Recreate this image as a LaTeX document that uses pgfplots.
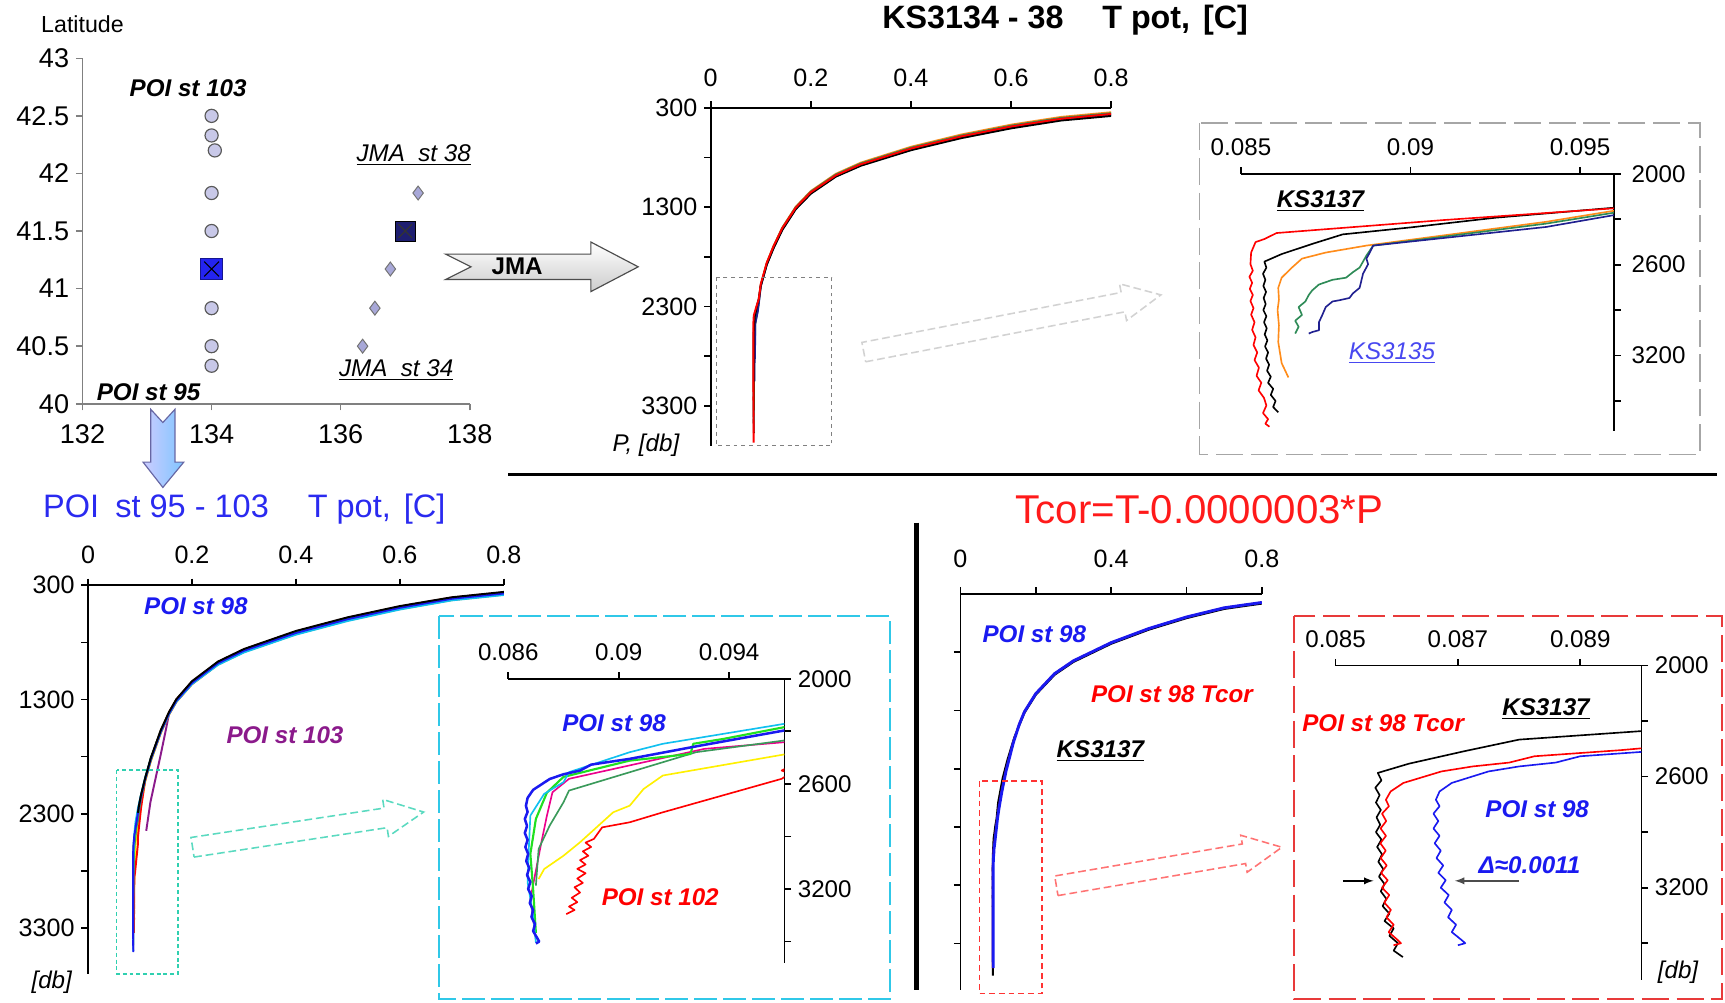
\documentclass[border=0pt]{standalone}
\usepackage{fontspec}
\setmainfont{Liberation Sans}
\usepackage{pgfplots}
\pgfplotsset{compat=1.18}
\usepackage{pgfplotstable}
\usetikzlibrary{shapes.arrows}

\definecolor{poicirc}{HTML}{C8C8E8}
\definecolor{jmadia}{HTML}{A8A8D8}
\definecolor{sqblue}{HTML}{2424F0}
\definecolor{sqnavy}{HTML}{1E1E70}
\definecolor{ksorange}{HTML}{FF8C1A}
\definecolor{ksgreen}{HTML}{2E8B57}
\definecolor{ksnavy}{HTML}{202090}
\definecolor{titleblue}{HTML}{2A2AF0}
\definecolor{st98}{HTML}{1A1AF0}
\definecolor{purp}{HTML}{8B1A8B}
\definecolor{pcyan}{HTML}{10C0F0}
\definecolor{pgreen}{HTML}{20E020}
\definecolor{psea}{HTML}{3A9A5A}
\definecolor{pyellow}{HTML}{FFF000}
\definecolor{cyanframe}{HTML}{30C8E8}
\definecolor{tealdot}{HTML}{30D0B0}
\definecolor{redframe}{HTML}{E83A3A}
\definecolor{ks35}{HTML}{4848F0}
\definecolor{titlered}{HTML}{FF1A1A}

\newcommand\lab{\fontsize{12.5}{13}\selectfont\bfseries\itshape}

% ---------- KS3134-38 (JMA) profiles: T pot [C], P [db]
\pgfplotstableread{
T P
0.8 382
0.7 428
0.6 507
0.5 606
0.4 727
0.3 883
0.25 993
0.2 1165
0.17 1320
0.143 1530
0.125 1720
0.112 1880
0.1 2090
0.096 2224
0.0925 2290
0.09 2354
0.088 2400
0.0871 2463
0.0862 2530
0.08569 2580
0.08575 2620
0.08565 2660
0.08572 2700
0.08566 2740
0.08574 2780
0.08567 2820
0.08573 2860
0.08566 2900
0.08575 2940
0.08568 2980
0.08576 3020
0.0857 3060
0.08578 3100
0.08571 3140
0.0858 3180
0.08574 3220
0.08583 3260
0.08577 3300
0.08588 3340
0.0858 3380
0.08595 3420
0.08588 3460
0.08602 3500
0.08595 3540
0.0861 3575
}\ksBlack

\pgfplotstableread{
T P
0.8 362
0.7 410
0.6 488
0.5 588
0.4 710
0.3 868
0.25 980
0.2 1150
0.17 1305
0.143 1512
0.125 1700
0.112 1860
0.1 2075
0.096 2228
0.091 2305
0.08605 2391
0.0857 2430
0.08543 2451
0.0853 2520
0.08528 2597
0.08535 2640
0.08525 2680
0.08533 2720
0.08526 2760
0.08535 2800
0.08528 2840
0.08537 2887
0.0853 2930
0.0854 2980
0.08533 3030
0.08543 3080
0.08537 3130
0.08548 3180
0.0854 3230
0.08553 3280
0.08546 3334
0.0856 3380
0.08552 3430
0.08568 3480
0.08575 3530
0.08565 3580
0.0858 3620
0.08572 3650
0.08584 3670
}\ksRed

\pgfplotstableread{
T P
0.8 345
0.7 392
0.6 470
0.5 570
0.4 693
0.3 852
0.25 965
0.2 1138
0.17 1296
0.143 1506
0.125 1698
0.112 1862
0.1 2085
0.096 2244
0.094 2317
0.0887 2474
0.0875 2520
0.0868 2560
0.0865 2620
0.0862 2686
0.0861 2753
0.08612 2830
0.08608 2900
0.08612 3000
0.0861 3111
0.0862 3250
0.0864 3345
}\ksOrange

\pgfplotstableread{
T P
0.8 355
0.7 402
0.6 480
0.5 580
0.4 702
0.3 860
0.25 972
0.2 1144
0.17 1300
0.143 1510
0.125 1702
0.112 1866
0.1 2092
0.096 2257
0.094 2329
0.0889 2474
0.0888 2507
0.0887 2540
0.0886 2580
0.0885 2619
0.0883 2650
0.0881 2686
0.0877 2700
0.0873 2731
0.0871 2770
0.087 2800
0.0869 2843
0.0867 2880
0.0868 2932
0.0866 2970
0.0867 3010
0.0866 3055
}\ksGreen

\pgfplotstableread{
T P
0.8 372
0.7 420
0.6 498
0.5 598
0.4 720
0.3 877
0.25 988
0.2 1160
0.17 1316
0.143 1525
0.125 1714
0.112 1876
0.1 2098
0.096 2273
0.094 2351
0.0889 2474
0.0888 2520
0.0887 2560
0.08875 2597
0.0886 2660
0.0885 2753
0.0883 2790
0.0882 2820
0.0879 2835
0.0877 2843
0.0875 2880
0.0874 2932
0.0873 2980
0.0873 3033
0.0871 3045
0.087 3055
}\ksNavy

% ---------- POI st 95-103 profiles
\pgfplotstableread{
T P
0.8 372
0.7 418
0.6 497
0.5 596
0.4 717
0.3 873
0.25 983
0.2 1155
0.17 1310
0.156 1420
0.14 1580
0.121 1820
0.11 1995
0.102 2145
0.098 2235
0.096 2295
0.093 2380
0.0904 2457
0.089 2490
0.0886 2524
0.088 2545
0.0875 2572
0.0869 2634
0.0867 2680
0.08664 2725
0.0867 2760
0.0866 2800
0.08668 2840
0.0866 2880
0.0867 2920
0.08662 2960
0.08672 3000
0.08665 3040
0.08676 3080
0.08668 3120
0.0868 3160
0.08672 3200
0.08685 3240
0.08678 3280
0.0869 3320
0.08684 3360
0.08697 3400
0.0869 3440
0.08705 3480
0.08712 3500
0.087 3511
}\poiBlue

\pgfplotstableread{
T P
0.79989 372
0.69987 418
0.59985 497
0.49982 596
0.39978 717
0.29974 873
0.24971 983
0.19965 1155
0.16961 1310
0.15557 1420
0.13953 1580
0.12045 1820
0.1094 1995
0.10136 2145
0.09733 2235
0.09531 2295
0.09229 2380
0.08966 2457
0.08825 2490
0.08784 2524
0.08724 2545
0.08673 2572
0.08611 2634
0.0859 2680
0.085823 2725
0.085872 2760
0.08576 2800
0.085828 2840
0.085736 2880
0.085824 2920
0.085732 2960
0.08582 3000
0.085738 3040
0.085836 3080
0.085744 3120
0.085852 3160
0.08576 3200
0.085878 3240
0.085796 3280
0.085904 3320
0.085832 3360
0.08595 3400
0.085868 3440
0.086006 3480
0.08607 3500
0.085947 3511
}\tcorRed

\pgfplotstableread{
T P
0.8 358
0.7 405
0.6 482
0.5 580
0.4 700
0.3 858
0.25 968
0.2 1140
0.17 1297
0.156 1408
0.14 1568
0.121 1808
0.11 1985
0.102 2135
0.098 2228
0.096 2292
}\poiBlack

\pgfplotstableread{
T P
0.8 385
0.7 432
0.6 512
0.5 612
0.4 732
0.3 888
0.25 997
0.2 1165
0.17 1318
0.156 1425
0.14 1582
0.121 1815
0.11 1985
0.102 2135
0.098 2215
0.096 2257
0.0916 2371
0.0904 2419
0.0882 2533
0.088 2590
0.0873 2657
0.0868 2781
0.08675 2950
0.0867 3162
0.0869 3350
0.087 3505
}\poiCyan

\pgfplotstableread{
T P
0.8 365
0.7 412
0.6 490
0.5 588
0.4 708
0.3 865
0.25 975
0.2 1147
0.17 1303
0.156 1414
0.14 1574
0.121 1814
0.11 1990
0.102 2138
0.098 2226
0.096 2276
0.0938 2343
0.0927 2371
0.0926 2429
0.0904 2467
0.088 2560
0.0874 2650
0.087 2800
0.0868 3000
0.0869 3200
0.087 3450
}\poiGreen

\pgfplotstableread{
T P
0.8 380
0.7 428
0.6 506
0.5 606
0.4 727
0.3 883
0.25 993
0.2 1165
0.17 1320
0.156 1430
0.14 1590
0.121 1830
0.11 2008
0.102 2170
0.098 2280
0.096 2362
0.0931 2400
0.0882 2571
0.0876 2648
0.0874 2781
0.0872 2933
0.0868 3257
0.087 3486
}\poiMagenta

\pgfplotstableread{
T P
0.8 378
0.7 425
0.6 503
0.5 603
0.4 724
0.3 880
0.25 990
0.2 1162
0.17 1317
0.156 1427
0.14 1587
0.121 1827
0.11 2003
0.102 2165
0.098 2278
0.096 2352
0.0928 2419
0.0882 2638
0.088 2705
0.0875 2838
0.0871 2971
0.087 3181
}\poiSea

\pgfplotstableread{
T P
0.8 382
0.7 430
0.6 509
0.5 608
0.4 729
0.3 885
0.25 995
0.2 1167
0.17 1322
0.156 1432
0.14 1595
0.121 1840
0.11 2020
0.102 2230
0.098 2370
0.0961 2429
0.0916 2552
0.0909 2629
0.0904 2724
0.0898 2762
0.0886 2933
0.088 3010
0.0873 3086
0.0871 3143
}\poiYellow

\pgfplotstableread{
T P
0.8 362
0.7 408
0.6 486
0.5 584
0.4 704
0.3 862
0.25 972
0.2 1144
0.17 1300
0.156 1411
0.14 1572
0.121 1815
0.11 2000
0.102 2250
0.098 2420
0.0962 2500
0.0959 2524
0.0962 2540
0.0959 2571
0.0916 2762
0.0904 2819
0.0894 2848
0.0891 2914
0.0888 2935
0.089 2960
0.0887 2985
0.0889 3010
0.0886 3035
0.0888 3060
0.0885 3085
0.0888 3110
0.0885 3140
0.0887 3165
0.0884 3190
0.0886 3220
0.0883 3250
0.0885 3275
0.0882 3300
0.0884 3320
0.0881 3343
}\poiRed

\pgfplotstableread{
T P
0.8 368
0.7 415
0.6 494
0.5 593
0.4 714
0.3 870
0.25 980
0.2 1152
0.17 1307
0.156 1420
0.15 1560
0.14 1780
0.13 1990
0.12 2200
0.112 2450
}\poiPurple

\pgfplotsset{
  prof/.style={scale only axis, anchor=center, y dir=reverse,
    axis line style={line width=0.9pt}, tick style={line width=0.9pt, black},
    tick align=outside, major tick length=0.12cm, minor tick length=0.12cm,
    tick label style={font=\fontsize{13}{13}\selectfont},
    /pgf/number format/1000 sep={}, scaled ticks=false,
    every axis plot/.append style={line width=1pt, line join=round, mark=none}},
  main/.style={prof, axis x line*=top, axis y line*=left,
    xticklabel style={yshift=0.14cm}},
  inset/.style={prof, axis x line*=top, axis y line*=right,
    restrict x to domain=0.08:0.115,
    tick label style={font=\fontsize{12.5}{13}\selectfont},
    xticklabel style={yshift=0.08cm},
    every axis plot/.append style={line width=0.85pt}},
}

\begin{document}
\begin{tikzpicture}
\useasboundingbox (0,0) rectangle (31.36cm,18.22cm);
\fill[white] (0,0) rectangle (31.36cm,18.22cm);

% ================= Panel A: station map
\begin{axis}[scale only axis, anchor=center, at={(5.02cm,14.02cm)}, width=7.04cm, height=6.28cm,
  xmin=132, xmax=138, ymin=40, ymax=43, axis lines*=left,
  axis line style={gray, line width=0.8pt}, tick style={gray, line width=0.8pt},
  tick align=outside, major tick length=0.12cm,
  xtick={132,134,136,138}, xticklabels={132,134,136,138},
  ytick={40,40.5,41,41.5,42,42.5,43}, yticklabels={40,40.5,41,41.5,42,42.5,43},
  tick label style={font=\fontsize{14}{14}\selectfont},
  xticklabel style={yshift=-0.14cm}, clip=false]
\addplot[only marks, mark=*, mark size=3.4pt, mark options={fill=poicirc, draw=black!65, line width=0.6pt}]
  coordinates {(134,42.5)(134,42.33)(134.05,42.2)(134,41.83)(134,41.5)(134,40.83)(134,40.5)(134,40.33)};
\addplot[only marks, mark=diamond*, mark size=3.6pt, mark options={fill=jmadia, draw=black!55, line width=0.5pt}]
  coordinates {(137.2,41.83)(136.77,41.17)(136.53,40.83)(136.34,40.5)};
\addplot[only marks, mark=square*, mark size=5.6pt, mark options={fill=sqblue, draw=sqblue!60!black}]
  coordinates {(134,41.17)};
\addplot[only marks, mark=x, mark size=5.4pt, mark options={draw=black, line width=0.6pt}]
  coordinates {(134,41.17)};
\addplot[only marks, mark=square*, mark size=5.2pt, mark options={fill=sqnavy, draw=black}]
  coordinates {(137,41.5)};
\addplot[only marks, mark=x, mark size=5pt, mark options={draw=black!80, line width=0.6pt}]
  coordinates {(137,41.5)};
\end{axis}

% ================= Panel B: KS3134-38
\begin{axis}[main, at={(16.56cm,13.19cm)}, width=7.28cm, height=6.14cm,
  xmin=0, xmax=0.8, ymin=300, ymax=3700,
  xtick={0,0.2,0.4,0.6,0.8}, xticklabels={0,0.2,0.4,0.6,0.8},
  ytick={300,800,1300,1800,2300,2800,3300}, yticklabels={300,,1300,,2300,,3300}]
\addplot[ksorange] table[x=T,y=P] {\ksOrange};
\addplot[ksgreen] table[x=T,y=P] {\ksGreen};
\addplot[ksnavy] table[x=T,y=P] {\ksNavy};
\addplot[black] table[x=T,y=P] {\ksBlack};
\addplot[red] table[x=T,y=P] {\ksRed};
\end{axis}

% ================= Panel C: zoom of KS profiles
\begin{axis}[inset, at={(25.95cm,12.72cm)}, width=6.78cm, height=4.68cm,
  xmin=0.085, xmax=0.096, ymin=2000, ymax=3700,
  xtick={0.085,0.09,0.095}, xticklabels={0.085,0.09,0.095},
  yticklabel style={xshift=0.08cm},
  ytick={2000,2300,2600,2900,3200,3500}, yticklabels={2000,,2600,,3200,}]
\addplot[ksorange] table[x=T,y=P] {\ksOrange};
\addplot[ksgreen] table[x=T,y=P] {\ksGreen};
\addplot[ksnavy] table[x=T,y=P] {\ksNavy};
\addplot[black] table[x=T,y=P] {\ksBlack};
\addplot[red] table[x=T,y=P] {\ksRed};
\end{axis}

% ================= Panel D: POI st 95-103
\begin{axis}[main, at={(5.38cm,4.05cm)}, width=7.56cm, height=7.06cm,
  xmin=0, xmax=0.8, ymin=300, ymax=3700,
  xtick={0,0.2,0.4,0.6,0.8}, xticklabels={0,0.2,0.4,0.6,0.8},
  ytick={300,800,1300,1800,2300,2800,3300}, yticklabels={300,,1300,,2300,,3300}]
\addplot[purp] table[x=T,y=P] {\poiPurple};
\addplot[pyellow] table[x=T,y=P] {\poiYellow};
\addplot[red] table[x=T,y=P] {\poiRed};
\addplot[magenta] table[x=T,y=P] {\poiMagenta};
\addplot[psea] table[x=T,y=P] {\poiSea};
\addplot[pgreen] table[x=T,y=P] {\poiGreen};
\addplot[pcyan] table[x=T,y=P] {\poiCyan};
\addplot[st98] table[x=T,y=P] {\poiBlue};
\addplot[black] table[x=T,y=P] {\poiBlack};
\end{axis}

% ================= Panel E: zoom of POI profiles
\begin{axis}[inset, at={(11.75cm,3.30cm)}, width=5.02cm, height=5.16cm,
  xmin=0.086, xmax=0.096, ymin=2000, ymax=3620,
  xtick={0.086,0.09,0.094}, xticklabels={0.086,0.09,0.094},
  ytick={2000,2300,2600,2900,3200,3500}, yticklabels={2000,,2600,,3200,}]
\addplot[pyellow] table[x=T,y=P] {\poiYellow};
\addplot[red] table[x=T,y=P] {\poiRed};
\addplot[magenta] table[x=T,y=P] {\poiMagenta};
\addplot[psea] table[x=T,y=P] {\poiSea};
\addplot[pgreen, line width=1.1pt] table[x=T,y=P] {\poiGreen};
\addplot[pcyan] table[x=T,y=P] {\poiCyan};
\addplot[st98, line width=1.3pt] table[x=T,y=P] {\poiBlue};
\end{axis}

% ================= Panel F: Tcor
\begin{axis}[main, at={(20.20cm,3.82cm)}, width=5.48cm, height=7.2cm,
  xmin=0, xmax=0.8, ymin=300, ymax=3700,
  xtick={0,0.2,0.4,0.6,0.8}, xticklabels={0,,0.4,,0.8},
  xticklabel style={yshift=0.1cm},
  ytick={800,1300,1800,2300,2800,3300}, yticklabels={}]
\addplot[black] table[x=T,y=P] {\ksBlack};
\addplot[red] table[x=T,y=P] {\tcorRed};
\addplot[st98, line width=1.5pt] table[x=T,y=P] {\poiBlue};
\end{axis}

% ================= Panel G: zoom Tcor
\begin{axis}[inset, at={(27.06cm,3.26cm)}, width=5.56cm, height=5.72cm,
  xmin=0.085, xmax=0.09, ymin=2000, ymax=3700,
  xtick={0.085,0.087,0.089}, xticklabels={0.085,0.087,0.089},
  ytick={2000,2300,2600,2900,3200,3500}, yticklabels={2000,,2600,,3200,}]
\addplot[black] table[x=T,y=P] {\ksBlack};
\addplot[red] table[x=T,y=P] {\tcorRed};
\addplot[st98] table[x=T,y=P] {\poiBlue};
\draw[-latex, black, line width=0.7pt] (axis cs:0.08512,3163) -- (axis cs:0.08562,3163);
\draw[-latex, black!70, line width=0.7pt] (axis cs:0.0880,3163) -- (axis cs:0.08695,3163);
\end{axis}

% ================= annotations (display pixel coordinates)
\begin{scope}[x=0.02cm, y=-0.02cm, yshift=18.22cm]
% separators
\draw[line width=1.8pt] (462,431) -- (1560,431);
\draw[line width=2.2pt] (833,475) -- (833,900);
% inset frames
\draw[gray!70, line width=0.8pt, dash pattern=on 14pt off 4pt] (1090,112) rectangle (1545,413);
\draw[cyanframe, line width=1.2pt, dash pattern=on 12pt off 3pt] (399,560) rectangle (809,908);
\draw[redframe, line width=1.2pt, dash pattern=on 14pt off 4pt] (1176,560) rectangle (1565,908);
% small zoom rectangles
\draw[gray, line width=0.5pt, dash pattern=on 2pt off 2pt] (651,252) rectangle (756,405);
\draw[tealdot, line width=0.8pt, dash pattern=on 2pt off 1.5pt] (106,700) rectangle (162,885);
\draw[red!80, line width=0.8pt, dash pattern=on 3pt off 2pt] (890,710) rectangle (947,903);
% faded zoom arrows
\draw[gray!35, line width=0.8pt, dash pattern=on 4pt off 2pt] (786.7,328.8) -- (1022.3,283.4) -- (1023.8,291.3) -- (1055,268) -- (1017.4,257.9) -- (1018.9,265.8) -- (783.3,311.2) -- cycle;
\draw[tealdot!80, line width=0.8pt, dash pattern=on 4pt off 2pt] (176.4,778.9) -- (351.8,752.2) -- (353.0,760.1) -- (385,738) -- (347.8,726.5) -- (349.0,734.4) -- (173.6,761.1) -- cycle;
\draw[red!55, line width=0.8pt, dash pattern=on 4pt off 2pt] (961.5,813.9) -- (1132.0,784.8) -- (1133.4,792.7) -- (1165,770) -- (1127.6,759.1) -- (1129.0,767.0) -- (958.5,796.1) -- cycle;
% JMA block arrow
\shade[top color=white, bottom color=gray!40, draw=black!70, line width=0.6pt]
  (405,231) -- (537,231) -- (537,220) -- (580,242.5) -- (537,265) -- (537,254) -- (405,254) -- (428,242.5) -- cycle;
\node[font=\fontsize{12.5}{13}\selectfont\bfseries] at (470,242) {JMA};
% down arrow
\shade[left color=blue!20, right color=blue!45!cyan!50, draw=blue!40!black!60, line width=0.6pt]
  (137,372) -- (148,384) -- (159,372) -- (159,420) -- (167,420) -- (148,443) -- (130,420) -- (137,420) -- cycle;
% texts panel A
\node[font=\fontsize{12}{12}\selectfont] at (75,22) {Latitude};
\node[font=\lab] at (171,80) {POI st 103};
\node[font=\fontsize{12.5}{13}\selectfont\itshape] at (376,141) {\underline{JMA\ \ st 38}};
\node[font=\fontsize{12.5}{13}\selectfont\itshape] at (360,336) {\underline{JMA\ \ st 34}};
\node[font=\lab] at (135,356) {POI st 95};
% panel B / C texts
\node[font=\fontsize{16.7}{17}\selectfont\bfseries] at (968,18) {KS3134 - 38\hspace{1.2em}T pot,\hspace{0.4em}[C]};
\node[font=\fontsize{12.5}{13}\selectfont\itshape] at (587,405) {P, [db]};
\node[font=\lab] at (1200,183) {\underline{KS3137}};
\node[font=\fontsize{12.5}{13}\selectfont\itshape, text=ks35] at (1265,321) {\underline{KS3135}};
% panel D / E texts
\node[font=\fontsize{16.8}{17}\selectfont, text=titleblue] at (222,463) {POI\hspace{0.5em}st 95 - 103\hspace{1.2em}T pot,\hspace{0.4em}[C]};
\node[font=\lab, text=st98] at (178,551) {POI st 98};
\node[font=\lab, text=purp] at (259,668) {POI st 103};
\node[font=\fontsize{12.5}{13}\selectfont\itshape] at (47,893) {[db]};
\node[font=\lab, text=st98] at (558,657) {POI st 98};
\node[font=\lab, text=red] at (600,815) {POI st 102};
% panel F / G texts
\node[font=\fontsize{20.8}{21}\selectfont, text=titlered] at (1090,463) {Tcor=T-0.0000003*P};
\node[font=\lab, text=st98] at (940,576) {POI st 98};
\node[font=\lab, text=red] at (1065,631) {POI st 98 Tcor};
\node[font=\lab] at (1000,683) {\underline{KS3137}};
\node[font=\lab, text=red] at (1257,657) {POI st 98 Tcor};
\node[font=\lab] at (1405,644) {\underline{KS3137}};
\node[font=\lab, text=st98] at (1397,735) {POI st 98};
\node[font=\lab, text=st98] at (1390,786) {Δ≈0.0011};
\node[font=\fontsize{12.5}{13}\selectfont\itshape] at (1525,884) {[db]};
\end{scope}
\end{tikzpicture}
\end{document}
